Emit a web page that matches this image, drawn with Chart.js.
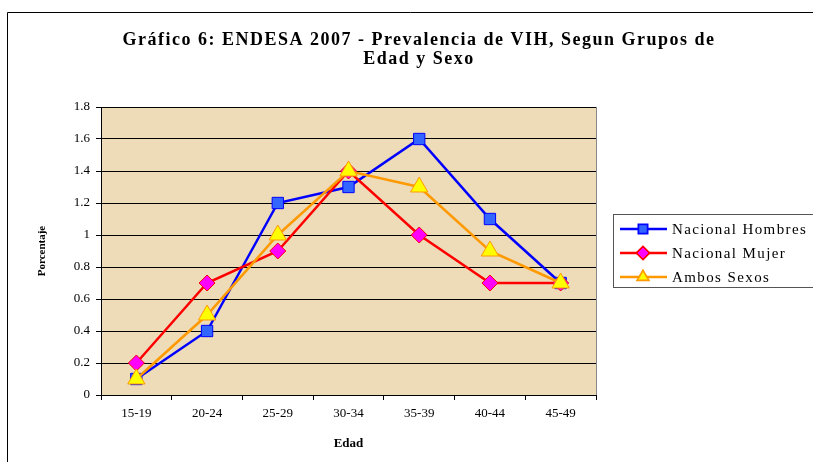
<!DOCTYPE html>
<html>
<head>
<meta charset="utf-8">
<script src="https://cdn.jsdelivr.net/npm/chart.js@4"></script>
<style>
  body { margin: 0; background: #fff; }
  #wrap { width: 813px; height: 462px; }
</style>
</head>
<body>
<div id="wrap"><canvas id="chart" width="813" height="462"></canvas></div>
<script>
// Data
const ageGroups = ['15-19', '20-24', '25-29', '30-34', '35-39', '40-44', '45-49'];
const hombres = [0.1, 0.4, 1.2, 1.3, 1.6, 1.1, 0.7];
const mujer = [0.2, 0.7, 0.9, 1.4, 1.0, 0.7, 0.7];
const ambos = [0.1, 0.5, 1.0, 1.4, 1.3, 0.9, 0.7];
const seriesNames = ['Nacional Hombres', 'Nacional Mujer', 'Ambos Sexos'];
const titleLines = ['Gráfico 6: ENDESA 2007 - Prevalencia de VIH, Segun Grupos de', 'Edad y Sexo'];

const serif = '"Liberation Serif", "Times New Roman", serif';

// Frame, background, title and legend box
const decorPlugin = {
    id: 'decor',
    beforeDraw(chart) {
        const c = chart.ctx;
        const a = chart.chartArea;
        c.save();
        c.fillStyle = '#EEDCB9';
        c.fillRect(a.left, a.top, a.right - a.left, a.bottom - a.top);
        c.restore();
    },
    afterDraw(chart) {
        const c = chart.ctx;
        const a = chart.chartArea;
        c.save();
        // outer frame
        c.strokeStyle = '#000';
        c.lineWidth = 1;
        c.beginPath();
        c.moveTo(7.5, 462);
        c.lineTo(7.5, 12.5);
        c.lineTo(813, 12.5);
        c.stroke();
        // plot right edge
        c.strokeStyle = '#888';
        c.beginPath();
        c.moveTo(a.right + 0.5, a.top);
        c.lineTo(a.right + 0.5, a.bottom);
        c.stroke();

        // title
        c.fillStyle = '#000';
        c.font = 'bold 18px ' + serif;
        c.letterSpacing = '1.5px';
        c.textAlign = 'center';
        c.textBaseline = 'middle';
        c.fillText(titleLines[0], 419, 40);
        c.fillText(titleLines[1], 419, 59);

        // legend
        c.strokeStyle = '#555';
        c.strokeRect(613.5, 214.5, 220, 73);
        c.font = '15px ' + serif;
        c.letterSpacing = '1.4px';
        c.textAlign = 'left';
        chart.data.datasets.forEach(function(ds, i) {
            const y = 229 + i * 24;
            c.strokeStyle = ds.borderColor;
            c.lineWidth = 2.5;
            c.beginPath();
            c.moveTo(620, y);
            c.lineTo(667, y);
            c.stroke();
            Chart.helpers.drawPoint(c, {
                pointStyle: ds.pointStyle,
                radius: 6,
                borderWidth: 1
            }, 643, y);
            c.fillStyle = ds.pointBackgroundColor;
            c.strokeStyle = ds.pointBorderColor;
            c.lineWidth = 1;
            c.fill();
            c.stroke();
            c.fillStyle = '#000';
            c.fillText(seriesNames[i], 672, y + 1);
        });
        c.restore();
    }
};

const ctx = document.getElementById('chart').getContext('2d');
const chart = new Chart(ctx, {
    type: 'line',
    data: {
        labels: ageGroups,
        datasets: [{
            label: seriesNames[0],
            data: hombres,
            borderColor: '#0000FF',
            pointBackgroundColor: '#3366FF',
            pointBorderColor: '#0000FF',
            pointStyle: 'rect',
            pointRadius: 8,
            order: 3
        }, {
            label: seriesNames[1],
            data: mujer,
            borderColor: '#FF0000',
            pointBackgroundColor: '#FF00FF',
            pointBorderColor: '#FF0000',
            pointStyle: 'rectRot',
            pointRadius: 8,
            order: 2
        }, {
            label: seriesNames[2],
            data: ambos,
            borderColor: '#FF9900',
            pointBackgroundColor: '#FFFF00',
            pointBorderColor: '#FF9900',
            pointStyle: 'triangle',
            pointRadius: 10,
            order: 1
        }]
    },
    options: {
        responsive: false,
        animation: false,
        layout: {
            padding: { left: 32, right: 217, top: 107, bottom: 7 }
        },
        elements: {
            line: { borderWidth: 2.5, tension: 0 },
            point: { borderWidth: 1 }
        },
        plugins: {
            legend: { display: false },
            title: { display: false },
            tooltip: { enabled: false }
        },
        scales: {
            x: {
                offset: true,
                afterFit(scale) { scale.height = 60; },
                grid: {
                    offset: true,
                    drawOnChartArea: false,
                    color: '#000',
                    tickLength: 5
                },
                border: { color: '#000' },
                ticks: { color: '#000', font: { family: serif, size: 13 }, padding: 6 },
                title: {
                    display: true,
                    text: 'Edad',
                    color: '#000',
                    font: { family: serif, size: 13, weight: 'bold' },
                    padding: { top: 4, bottom: 4 }
                }
            },
            y: {
                min: 0,
                max: 1.8,
                afterFit(scale) { scale.width = 69; },
                ticks: {
                    stepSize: 0.2,
                    color: '#000',
                    font: { family: serif, size: 13 },
                    padding: 6,
                    callback: function(value) { return String(Number(value.toFixed(1))); }
                },
                grid: { color: '#000', tickLength: 5 },
                border: { color: '#000' },
                title: {
                    display: true,
                    text: 'Porcentaje',
                    color: '#000',
                    font: { family: serif, size: 11, weight: 'bold' },
                    padding: { top: 4, bottom: 4 }
                }
            }
        }
    },
    plugins: [decorPlugin]
});
</script>
</body>
</html>
